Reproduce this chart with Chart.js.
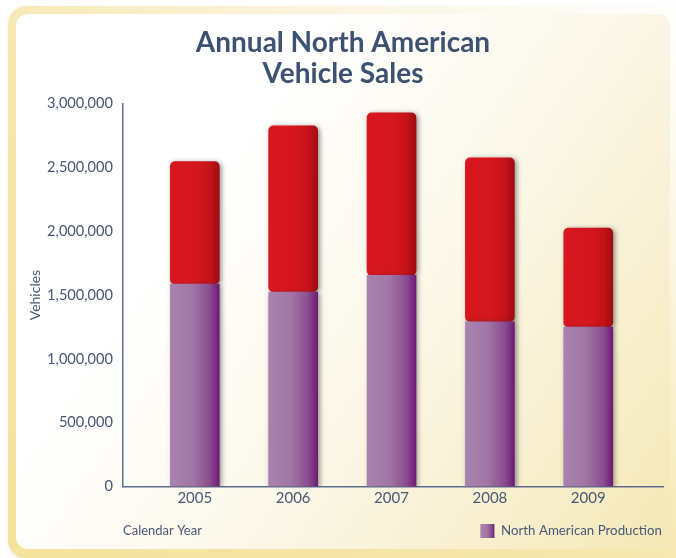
<!DOCTYPE html>
<html>
<head>
<meta charset="utf-8">
<script src="https://cdn.jsdelivr.net/npm/chart.js@4/dist/chart.umd.min.js"></script>
<style>
  html, body { margin: 0; padding: 0; background: #ffffff; }
  #wrap { position: relative; width: 676px; height: 558px; overflow: hidden; }
  .frame-out {
    position: absolute; left: 8px; top: 6px; width: 690px; height: 552px;
    border-radius: 18px;
    background: linear-gradient(to top right, #f4e29c 0%, #f6e7ad 45%, #fbf6e2 75%, #ffffff 100%);
    box-shadow: 1px 2px 4px rgba(0, 0, 0, 0.12);
  }
  .frame-in {
    position: absolute; left: 16px; top: 14px; width: 654px; height: 535px;
    border-radius: 12px;
    background: linear-gradient(125deg, #ffffff 0%, #ffffff 30%, #fbf7e8 60%, #f5e8b6 100%);
  }
  #chart { position: absolute; left: 0; top: 0; }
</style>
</head>
<body>
<div id="wrap">
  <div class="frame-out"></div>
  <div class="frame-in"></div>
  <canvas id="chart" width="676" height="558"></canvas>
</div>
<script>
const years = ['2005', '2006', '2007', '2008', '2009'];
const production = [1585000, 1524000, 1655000, 1291000, 1249000];
const imports = [961000, 1301000, 1272000, 1284000, 776000];
const yTicks = [0, 500000, 1000000, 1500000, 2000000, 2500000, 3000000];

const TEXT = '#4a5876';
const AXIS = '#5d6d8f';
const FONT = 'Lato, "Open Sans", sans-serif';

// horizontal shading across each bar, light on the left and dark on the right
function barGradient(ctx, stops, fallback) {
  const chart = ctx.chart;
  if (!chart.chartArea || !chart.scales.x) return fallback;
  const x = chart.scales.x.getPixelForValue(ctx.dataIndex);
  const g = chart.ctx.createLinearGradient(x - 25, 0, x + 25, 0);
  stops.forEach(([o, c]) => g.addColorStop(o, c));
  return g;
}

const PURPLE = [[0, '#a983ad'], [0.45, '#a077a4'], [0.8, '#8b4c90'], [1, '#6c1872']];
const RED = [[0, '#d7171f'], [0.55, '#d4161f'], [0.82, '#c21219'], [1, '#9c0b11']];

const shadowPlugin = {
  id: 'barShadow',
  beforeDatasetsDraw(chart) {
    const c = chart.ctx;
    c.save();
    c.shadowColor = 'rgba(40, 40, 40, 0.5)';
    c.shadowBlur = 5;
    c.shadowOffsetX = 2;
    c.shadowOffsetY = 1;
  },
  afterDatasetsDraw(chart) {
    chart.ctx.restore();
  }
};

const footerPlugin = {
  id: 'footer',
  afterLayout(chart) {
    // legend sits a bit further right than the plot's right edge
    chart.legend.left += 9;
    chart.legend.right += 9;
  },
  beforeDraw(chart) {
    const box = chart.legend.legendHitBoxes[0];
    const item = chart.legend.legendItems[0];
    if (box && item) {
      const g = chart.ctx.createLinearGradient(box.left, 0, box.left + 14, 0);
      PURPLE.forEach(([o, c]) => g.addColorStop(o, c));
      item.fillStyle = g;
    }
  },
  afterDraw(chart) {
    const box = chart.legend.legendHitBoxes[0];
    if (!box) return;
    const c = chart.ctx;
    c.save();
    c.font = '13px ' + FONT;
    c.fillStyle = TEXT;
    c.textBaseline = 'middle';
    c.textAlign = 'left';
    c.fillText('Calendar Year', chart.chartArea.left, box.top + box.height / 2);
    c.restore();
  }
};

new Chart(document.getElementById('chart'), {
  type: 'bar',
  data: {
    datasets: [
      {
        label: 'North American Production',
        data: production.map((v, i) => ({ x: i, y: v })),
        backgroundColor: (ctx) => barGradient(ctx, PURPLE, '#9a679e'),
        borderWidth: 0,
        barThickness: 49,
      },
      {
        label: 'Imports',
        data: imports.map((v, i) => ({ x: i, y: v })),
        backgroundColor: (ctx) => barGradient(ctx, RED, '#d4161f'),
        borderWidth: 0,
        borderRadius: { topLeft: 5, topRight: 5, bottomLeft: 5, bottomRight: 5 },
        borderSkipped: false,
        barThickness: 49,
      }
    ]
  },
  options: {
    responsive: false,
    animation: false,
    layout: { padding: { left: 23, right: 13, top: 28, bottom: 10 } },
    plugins: {
      title: {
        display: true,
        text: ['Annual North American', 'Vehicle Sales'],
        color: '#3d5172',
        font: { family: FONT, size: 28, weight: 'bold', lineHeight: 1.1 },
        padding: { top: 0, bottom: 14 }
      },
      legend: {
        position: 'bottom',
        align: 'end',
        labels: {
          filter: (item) => item.datasetIndex === 0,
          color: TEXT,
          font: { family: FONT, size: 13.3 },
          boxWidth: 14,
          boxHeight: 14,
          padding: 10
        }
      },
      tooltip: { enabled: false }
    },
    scales: {
      x: {
        type: 'linear',
        stacked: true,
        min: -0.73,
        max: 4.76,
        offset: false,
        afterBuildTicks: (scale) => { scale.ticks = years.map((y, i) => ({ value: i })); },
        afterFit: (scale) => { scale.height = 27.5; },
        ticks: {
          callback: (v) => years[v],
          color: TEXT,
          font: { family: FONT, size: 15 },
          padding: 3,
          maxRotation: 0
        },
        grid: { display: false, drawTicks: false },
        border: { color: AXIS, width: 1.5 }
      },
      y: {
        stacked: true,
        min: 0,
        max: 3000000,
        afterBuildTicks: (scale) => { scale.ticks = yTicks.map(v => ({ value: v })); },
        afterFit: (scale) => { scale.width = 100; },
        ticks: {
          callback: (v) => v.toLocaleString('en-US'),
          color: TEXT,
          font: { family: FONT, size: 14.6 },
          padding: 10
        },
        title: {
          display: true,
          text: 'Vehicles',
          color: TEXT,
          font: { family: FONT, size: 14 },
          padding: { top: 4, bottom: 0 }
        },
        grid: { display: false, drawTicks: false },
        border: { color: AXIS, width: 1.5 }
      }
    }
  },
  plugins: [shadowPlugin, footerPlugin]
});
</script>
</body>
</html>
